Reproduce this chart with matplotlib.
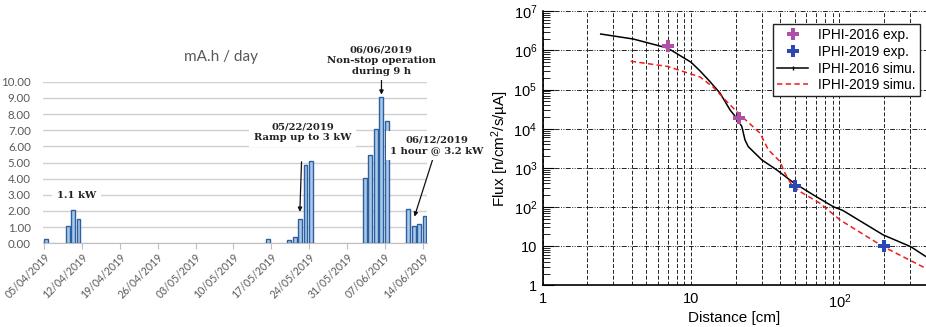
import numpy as np
import pandas as pd
import matplotlib
matplotlib.use("Agg")
import matplotlib.pyplot as plt
import matplotlib.dates as mdates
from matplotlib.ticker import FixedLocator, NullFormatter

plt.rcParams['mathtext.fontset'] = 'custom'
plt.rcParams['mathtext.rm'] = 'Liberation Sans'
plt.rcParams['mathtext.default'] = 'regular'

# ---- left panel data: charge per day (mA.h)
bar_dates = ['2019-04-05', '2019-04-09', '2019-04-10', '2019-04-11',
             '2019-05-16', '2019-05-20', '2019-05-21', '2019-05-22',
             '2019-05-23', '2019-05-24', '2019-06-03', '2019-06-04',
             '2019-06-05', '2019-06-06', '2019-06-07', '2019-06-11',
             '2019-06-12', '2019-06-13', '2019-06-14']
bar_values = [0.26, 1.05, 2.04, 1.52,
              0.25, 0.19, 0.36, 1.50,
              4.82, 5.12, 4.05, 5.48,
              7.06, 9.06, 7.56, 2.10,
              1.10, 1.18, 1.72]
tick_dates = ['2019-04-05', '2019-04-12', '2019-04-19', '2019-04-26',
              '2019-05-03', '2019-05-10', '2019-05-17', '2019-05-24',
              '2019-05-31', '2019-06-07', '2019-06-14']

# ---- right panel data: flux vs distance
exp16_x = [7.0, 21.1]
exp16_y = [1.3e6, 1.86e4]
exp19_x = [50.0, 200.0]
exp19_y = [347.0, 10.3]
sim16_x = [2.46, 4.08, 6.96, 10.0, 11.5, 13.4, 15.7, 18.3, 20.3, 22.0, 23.1,
           24.3, 30.0, 37.8, 49.0, 66.8, 91.0, 106.0, 198.0, 303.0, 384.0]
sim16_y = [2.63e6, 1.96e6, 1.15e6, 5.0e5, 3.0e5, 1.61e5, 8.1e4, 3.05e4,
           1.86e4, 1.14e4, 5.2e3, 3.5e3, 1.6e3, 890.0, 421.0, 204.0, 102.0,
           81.0, 19.3, 9.7, 5.4]
sim19_x = [3.92, 6.96, 11.5, 14.1, 17.4, 21.4, 29.2, 33.2, 39.8, 43.0, 47.7,
           54.3, 74.0, 101.0, 198.0, 384.0]
sim19_y = [5.3e5, 3.9e5, 2.1e5, 1.16e5, 4.96e4, 2.27e4, 7.7e3, 2.9e3,
           1.45e3, 730.0, 367.0, 248.0, 125.0, 46.8, 9.7, 2.7]

fig = plt.figure(figsize=(9.26, 3.27), dpi=100)

# ================= left panel =================
ax1 = fig.add_axes([0.0468, 0.256, 0.4142, 0.494])
gray = '#595959'
d = mdates.date2num(pd.to_datetime(bar_dates)) + 0.35
ax1.bar(d, bar_values, width=0.72, color='#a9c8ea', edgecolor='#2e5f9e',
        linewidth=1.0, zorder=3)

t0 = mdates.date2num(pd.Timestamp('2019-04-05'))
ax1.set_xlim(t0 - 0.15, t0 + 70.8)
ax1.set_ylim(0, 10)
ax1.set_yticks(np.arange(0, 11, 1))
ax1.set_yticklabels(['%.2f' % v for v in np.arange(0, 11, 1)])
ticks = mdates.date2num(pd.to_datetime(tick_dates))
ax1.set_xticks(ticks)
ax1.set_xticklabels([pd.Timestamp(t).strftime('%d/%m/%Y') for t in tick_dates],
                    rotation=45, ha='right', rotation_mode='anchor')
ax1.grid(axis='y', color='#d0d0d0', linewidth=1.0, zorder=0)
for s in ['top', 'right', 'left']:
    ax1.spines[s].set_visible(False)
ax1.spines['bottom'].set_color('#bfbfbf')
ax1.tick_params(axis='y', length=0, labelsize=8.3, labelcolor=gray, pad=9)
ax1.tick_params(axis='x', length=4, color='#bfbfbf', labelsize=7.6,
                labelcolor=gray, pad=2)
for lab in ax1.get_xticklabels() + ax1.get_yticklabels():
    lab.set_family('Lato')

fig.text(0.239, 0.826, 'mA.h / day', ha='center', va='center',
         fontsize=11, color=gray, family='Lato')

afont = dict(family='DejaVu Serif', fontweight='bold', fontsize=7.2,
             color='#222222', ha='center', va='center', zorder=5)
box = dict(boxstyle='square,pad=0.45', facecolor='white', edgecolor='none')

ax1.text(t0 + 6.0, 2.95, '1.1 kW', bbox=box, **afont)

ax1.annotate('05/22/2019\nRamp up to 3 kW', xy=(t0 + 47.3, 1.95),
             xytext=(t0 + 47.8, 6.88), textcoords='data',
             arrowprops=dict(arrowstyle='-|>', color='#111111', lw=0.9,
                             mutation_scale=6, shrinkA=11, shrinkB=0),
             linespacing=1.25, bbox=box, **afont)

ax1.annotate('06/06/2019\nNon-stop operation\nduring 9 h', xy=(t0 + 62.4, 9.2),
             xytext=(t0 + 62.4, 11.3), textcoords='data',
             arrowprops=dict(arrowstyle='-|>', color='#111111', lw=0.9,
                             mutation_scale=6, shrinkA=13, shrinkB=0),
             linespacing=1.2, bbox=box, annotation_clip=False, **afont)

ax1.annotate('06/12/2019\n1 hour @ 3.2 kW', xy=(t0 + 68.5, 1.65),
             xytext=(t0 + 72.7, 6.06), textcoords='data',
             arrowprops=dict(arrowstyle='-|>', color='#111111', lw=0.9,
                             mutation_scale=6, shrinkA=0, shrinkB=0),
             linespacing=1.25, bbox=box, annotation_clip=False, **afont)

# ================= right panel =================
# axes runs off the right edge of the picture, as in the source figure
ax2 = fig.add_axes([0.5861, 0.1275, 0.4139, 0.8379])
ax2.set_xscale('log')
ax2.set_yscale('log')
ax2.set_xlim(1, 384)
ax2.set_ylim(1, 1e7)

ax2.plot(sim16_x, sim16_y, color='black', lw=1.1, zorder=4,
         label='IPHI-2016 simu.', marker='|', markevery=[], markersize=3)
ax2.plot(sim19_x, sim19_y, color='#ee1c1c', lw=1.1, ls=(0, (3.5, 2.2)),
         zorder=4, label='IPHI-2019 simu.')
ax2.plot(exp16_x, exp16_y, ls='none', marker='P', markersize=8,
         color='#b04fa6', markeredgewidth=0, zorder=5, label='IPHI-2016 exp.')
ax2.plot(exp19_x, exp19_y, ls='none', marker='P', markersize=8,
         color='#2b46b5', markeredgewidth=0, zorder=5, label='IPHI-2019 exp.')

ax2.xaxis.set_major_locator(FixedLocator([1, 10, 100]))
ax2.set_xticklabels(['1', '10', '10$^2$'])
ax2.xaxis.set_minor_locator(FixedLocator(
    [m * 10 ** k for k in range(0, 3) for m in range(2, 10)]))
ax2.xaxis.set_minor_formatter(NullFormatter())
ax2.yaxis.set_major_locator(FixedLocator([10 ** k for k in range(0, 8)]))
ax2.set_yticklabels(['1', '10'] + ['10$^%d$' % k for k in range(2, 8)])
ax2.yaxis.set_minor_locator(FixedLocator(
    [m * 10 ** k for k in range(0, 7) for m in range(2, 10)]))
ax2.yaxis.set_minor_formatter(NullFormatter())

ax2.grid(which='major', axis='x', color='#222222', lw=0.7, ls=(0, (4, 2)))
ax2.grid(which='minor', axis='x', color='#222222', lw=0.7, ls=(0, (4, 2)))
ax2.grid(which='major', axis='y', color='#222222', lw=0.7,
         ls=(0, (5, 1.5, 1, 1.5, 1, 1.5)))

ax2.tick_params(axis='x', which='both', length=0, labelsize=10.5, pad=5)
ax2.tick_params(axis='y', which='major', direction='in', length=8,
                labelsize=10.5, pad=4)
ax2.tick_params(axis='y', which='minor', direction='in', length=5)
for s in ['top', 'right']:
    ax2.spines[s].set_visible(False)
for s in ['left', 'bottom']:
    ax2.spines[s].set_linewidth(1.2)
for lab in ax2.get_xticklabels() + ax2.get_yticklabels():
    lab.set_family('Liberation Sans')

ax2.set_xlabel('Distance [cm]', fontsize=11, family='Liberation Sans',
               labelpad=0)
ax2.set_ylabel('Flux [n/cm$^2$/s/µA]', fontsize=11, family='Liberation Sans',
               labelpad=2)

h, l = ax2.get_legend_handles_labels()
order = [2, 3, 0, 1]
leg = ax2.legend([h[i] for i in order], [l[i] for i in order],
                 loc='upper left', bbox_to_anchor=(0.8348, 0.9266),
                 bbox_transform=fig.transFigure,
                 fancybox=False, edgecolor='#222222', framealpha=1,
                 prop={'family': 'Liberation Sans', 'size': 9.8},
                 handlelength=2.3, borderpad=0.3, labelspacing=0.2,
                 handletextpad=0.7, borderaxespad=0)
leg.get_frame().set_linewidth(1.0)
leg.set_zorder(10)

fig.savefig('out.png', dpi=100)
